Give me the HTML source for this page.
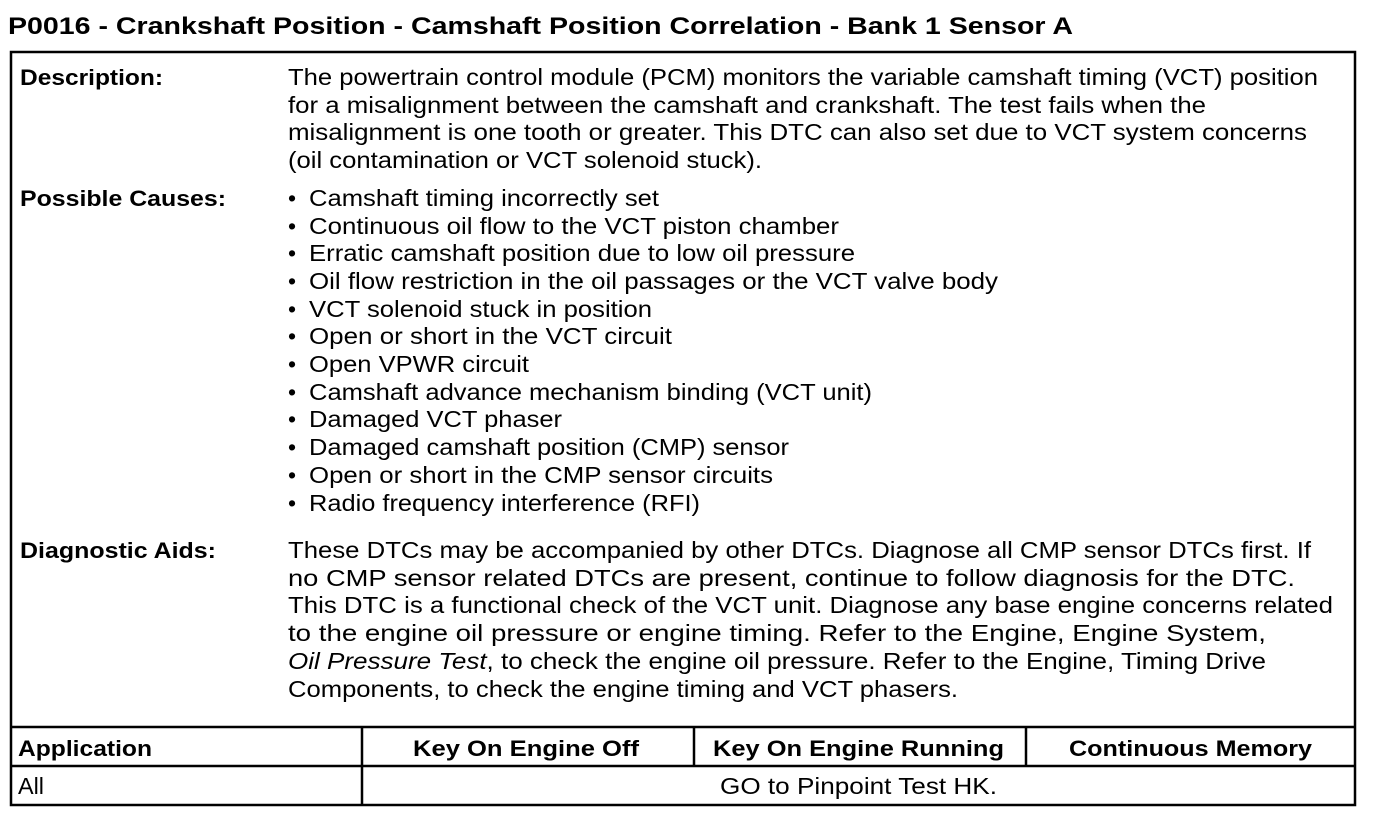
<!DOCTYPE html>
<html><head><meta charset="utf-8"><style>
html,body{margin:0;padding:0;background:#fff;}
svg{display:block;}
text{font-family:"Liberation Sans",Arial,sans-serif;fill:#000;}
.b{font-weight:bold;}
</style></head><body>
<svg width="1392" height="816" viewBox="0 0 1392 816" xmlns="http://www.w3.org/2000/svg">
<g fill="none" stroke="#000" stroke-width="2.5">
<rect x="11" y="52" width="1344" height="753"/>
<line x1="11" y1="727" x2="1355" y2="727"/>
<line x1="11" y1="766" x2="1355" y2="766"/>
<line x1="362" y1="727" x2="362" y2="805"/>
<line x1="694" y1="727" x2="694" y2="766"/>
<line x1="1026" y1="727" x2="1026" y2="766"/>
</g>
<text class="b" x="8" y="34" font-size="24" textLength="1065" lengthAdjust="spacingAndGlyphs">P0016 - Crankshaft Position - Camshaft Position Correlation - Bank 1 Sensor A</text>
<g font-size="22" class="b">
<text class="b" x="20" y="85" textLength="143" lengthAdjust="spacingAndGlyphs">Description:</text>
<text class="b" x="20" y="206" textLength="206" lengthAdjust="spacingAndGlyphs">Possible Causes:</text>
<text class="b" x="20" y="558" textLength="196" lengthAdjust="spacingAndGlyphs">Diagnostic Aids:</text>
<text class="b" x="18" y="756" textLength="134" lengthAdjust="spacingAndGlyphs">Application</text>
<text class="b" x="413" y="756" textLength="226" lengthAdjust="spacingAndGlyphs">Key On Engine Off</text>
<text class="b" x="713" y="756" textLength="291" lengthAdjust="spacingAndGlyphs">Key On Engine Running</text>
<text class="b" x="1069" y="756" textLength="243" lengthAdjust="spacingAndGlyphs">Continuous Memory</text>
</g>
<g font-size="23">
<text x="288" y="85" textLength="1030" lengthAdjust="spacingAndGlyphs">The powertrain control module (PCM) monitors the variable camshaft timing (VCT) position</text>
<text x="288" y="113" textLength="918" lengthAdjust="spacingAndGlyphs">for a misalignment between the camshaft and crankshaft. The test fails when the</text>
<text x="288" y="140" textLength="1019" lengthAdjust="spacingAndGlyphs">misalignment is one tooth or greater. This DTC can also set due to VCT system concerns</text>
<text x="288" y="168" textLength="474" lengthAdjust="spacingAndGlyphs">(oil contamination or VCT solenoid stuck).</text>

<text x="288" y="206">•</text><text x="309" y="206" textLength="350" lengthAdjust="spacingAndGlyphs">Camshaft timing incorrectly set</text>
<text x="288" y="234">•</text><text x="309" y="234" textLength="530" lengthAdjust="spacingAndGlyphs">Continuous oil flow to the VCT piston chamber</text>
<text x="288" y="261">•</text><text x="309" y="261" textLength="546" lengthAdjust="spacingAndGlyphs">Erratic camshaft position due to low oil pressure</text>
<text x="288" y="289">•</text><text x="309" y="289" textLength="689" lengthAdjust="spacingAndGlyphs">Oil flow restriction in the oil passages or the VCT valve body</text>
<text x="288" y="317">•</text><text x="309" y="317" textLength="343" lengthAdjust="spacingAndGlyphs">VCT solenoid stuck in position</text>
<text x="288" y="344">•</text><text x="309" y="344" textLength="363" lengthAdjust="spacingAndGlyphs">Open or short in the VCT circuit</text>
<text x="288" y="372">•</text><text x="309" y="372" textLength="220" lengthAdjust="spacingAndGlyphs">Open VPWR circuit</text>
<text x="288" y="400">•</text><text x="309" y="400" textLength="563" lengthAdjust="spacingAndGlyphs">Camshaft advance mechanism binding (VCT unit)</text>
<text x="288" y="427">•</text><text x="309" y="427" textLength="253" lengthAdjust="spacingAndGlyphs">Damaged VCT phaser</text>
<text x="288" y="455">•</text><text x="309" y="455" textLength="480" lengthAdjust="spacingAndGlyphs">Damaged camshaft position (CMP) sensor</text>
<text x="288" y="483">•</text><text x="309" y="483" textLength="464" lengthAdjust="spacingAndGlyphs">Open or short in the CMP sensor circuits</text>
<text x="288" y="511">•</text><text x="309" y="511" textLength="391" lengthAdjust="spacingAndGlyphs">Radio frequency interference (RFI)</text>

<text x="288" y="558" textLength="1023" lengthAdjust="spacingAndGlyphs">These DTCs may be accompanied by other DTCs. Diagnose all CMP sensor DTCs first. If</text>
<text x="288" y="586" textLength="1007" lengthAdjust="spacingAndGlyphs">no CMP sensor related DTCs are present, continue to follow diagnosis for the DTC.</text>
<text x="288" y="613" textLength="1045" lengthAdjust="spacingAndGlyphs">This DTC is a functional check of the VCT unit. Diagnose any base engine concerns related</text>
<text x="288" y="641" textLength="978" lengthAdjust="spacingAndGlyphs">to the engine oil pressure or engine timing. Refer to the Engine, Engine System,</text>
<text x="288" y="669" textLength="978" lengthAdjust="spacingAndGlyphs"><tspan font-style="italic">Oil Pressure Test</tspan>, to check the engine oil pressure. Refer to the Engine, Timing Drive</text>
<text x="288" y="697" textLength="670" lengthAdjust="spacingAndGlyphs">Components, to check the engine timing and VCT phasers.</text>

<text x="18" y="794" textLength="26" lengthAdjust="spacingAndGlyphs">All</text>
<text x="720" y="794" textLength="277" lengthAdjust="spacingAndGlyphs">GO to Pinpoint Test HK.</text>
</g>
</svg>
</body></html>
